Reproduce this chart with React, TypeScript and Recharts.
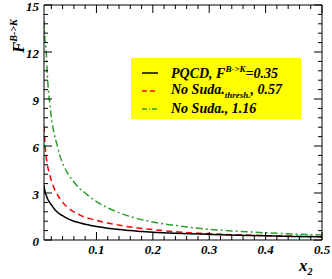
import React from "react";
import { LineChart, Line, XAxis, YAxis, Legend } from "recharts";

// x2 momentum fraction and the three distributions
const x2 = [
  0.007, 0.008, 0.011, 0.013, 0.017, 0.02, 0.025, 0.03, 0.035, 0.04, 0.05, 0.06,
  0.07, 0.08, 0.09, 0.1, 0.12, 0.14, 0.16, 0.18, 0.2, 0.25, 0.3, 0.35, 0.4, 0.45, 0.5,
];
const pqcd = [
  3.5, 3.25, 2.85, 2.65, 2.4, 2.25, 2.0, 1.8, 1.65, 1.55, 1.35, 1.2,
  1.1, 1.0, 0.93, 0.86, 0.75, 0.67, 0.6, 0.55, 0.5, 0.42, 0.36, 0.31, 0.27, 0.23, 0.2,
];
const noSudaThresh = [
  7.3, 6.6, 5.3, 4.8, 4.2, 3.8, 3.3, 2.95, 2.65, 2.4, 2.05, 1.8,
  1.6, 1.45, 1.35, 1.25, 1.08, 0.95, 0.83, 0.74, 0.66, 0.5, 0.4, 0.33, 0.28, 0.24, 0.21,
];
const noSuda = [
  14.0, 13.2, 12.0, 10.5, 8.8, 7.85, 6.8, 6.1, 5.4, 4.9, 4.2, 3.7,
  3.3, 3.0, 2.7, 2.45, 2.05, 1.75, 1.5, 1.3, 1.15, 0.88, 0.68, 0.56, 0.46, 0.38, 0.32,
];

const xTicks = [
  0.02, 0.04, 0.06, 0.08, 0.1, 0.12, 0.14, 0.16, 0.18, 0.2, 0.22, 0.24, 0.26,
  0.28, 0.3, 0.32, 0.34, 0.36, 0.38, 0.4, 0.42, 0.44, 0.46, 0.48, 0.5,
];
const xLabels = [0.1, 0.2, 0.3, 0.4, 0.5];
const yTicks = [
  0, 0.6, 1.2, 1.8, 2.4, 3, 3.6, 4.2, 4.8, 5.4, 6, 6.6, 7.2, 7.8, 8.4, 9, 9.6,
  10.2, 10.8, 11.4, 12, 12.6, 13.2, 13.8, 14.4, 15,
];
const yLabels = [0, 3, 6, 9, 12, 15];

const data = x2.map((x, i) => ({
  x,
  pqcd: pqcd[i],
  thresh: noSudaThresh[i],
  suda: noSuda[i],
}));

const font = {
  fontFamily: "'Liberation Serif', 'Times New Roman', serif",
  fontWeight: "bold" as const,
  fontStyle: "italic" as const,
};

const isMajor = (list: number[], v: number) =>
  list.some((m) => Math.abs(m - v) < 1e-6);

const BottomTick = (props: any) => {
  const { x, y, payload } = props;
  const major = isMajor(xLabels, payload.value);
  return (
    <g>
      <line x1={x} y1={y} x2={x} y2={y - (major ? 8 : 4)} stroke="#000" />
      {major && (
        <text x={x} y={y + 14} textAnchor="middle" fontSize={13} {...font}>
          {payload.value.toFixed(1)}
        </text>
      )}
    </g>
  );
};

const TopTick = (props: any) => {
  const { x, y, payload } = props;
  const major = isMajor(xLabels, payload.value);
  return <line x1={x} y1={y} x2={x} y2={y + (major ? 8 : 4)} stroke="#000" />;
};

const LeftTick = (props: any) => {
  const { x, y, payload } = props;
  const major = isMajor(yLabels, payload.value);
  return (
    <g>
      <line x1={x} y1={y} x2={x + (major ? 8 : 4)} y2={y} stroke="#000" />
      {major && (
        <text x={x - 5} y={y + 6} textAnchor="end" fontSize={13} {...font}>
          {payload.value}
        </text>
      )}
    </g>
  );
};

const RightTick = (props: any) => {
  const { x, y, payload } = props;
  const major = isMajor(yLabels, payload.value);
  return <line x1={x} y1={y} x2={x - (major ? 8 : 4)} y2={y} stroke="#000" />;
};

const GREEN = "#2e9e2e";

const LegendBox = () => (
  <div
    style={{
      ...font,
      background: "#ffff00",
      width: 170,
      height: 61,
      boxSizing: "border-box",
      padding: "6px 0 0 11px",
      fontSize: 14,
      lineHeight: "18px",
    }}
  >
    {[
      { color: "#000", dash: undefined, text: <>PQCD, F<sup style={{ fontSize: 9 }}>B-&gt;K</sup>=0.35</> },
      { color: "#ff0000", dash: "5 3", text: <>No Suda.<sub style={{ fontSize: 9 }}>thresh.</sub>, 0.57</> },
      { color: GREEN, dash: "5 2 1 2", text: <>No Suda., 1.16</> },
    ].map((r, i) => (
      <div key={i} style={{ display: "flex", alignItems: "center", height: 18 }}>
        <svg width={16} height={4} style={{ marginRight: 13 }}>
          <line x1={0} y1={2} x2={16} y2={2} stroke={r.color} strokeWidth={1.5} strokeDasharray={r.dash} />
        </svg>
        <span style={{ whiteSpace: "nowrap", lineHeight: 1 }}>{r.text}</span>
      </div>
    ))}
  </div>
);

const axisCommon = {
  interval: 0 as const,
  tickSize: 0,
  tickMargin: 0,
  tickLine: false,
  allowDataOverflow: true,
  axisLine: { stroke: "#000" },
};

export default function App() {
  return (
    <div style={{ position: "absolute", left: 0, top: 0, width: 332, height: 279, background: "#fff" }}>
      <LineChart
        width={332}
        height={279}
        data={data}
        margin={{ top: 4, right: 9, bottom: 38, left: 43 }}
      >
        <XAxis
          xAxisId="b"
          dataKey="x"
          type="number"
          domain={[0.007, 0.5]}
          ticks={xTicks}
          height={1}
          {...axisCommon}
          tick={<BottomTick />}
        />
        <XAxis
          xAxisId="t"
          orientation="top"
          dataKey="x"
          type="number"
          domain={[0.007, 0.5]}
          ticks={xTicks}
          height={1}
          {...axisCommon}
          tick={<TopTick />}
        />
        <YAxis
          yAxisId="l"
          type="number"
          domain={[0, 15]}
          ticks={yTicks}
          width={1}
          {...axisCommon}
          tick={<LeftTick />}
        />
        <YAxis
          yAxisId="r"
          orientation="right"
          type="number"
          domain={[0, 15]}
          ticks={yTicks}
          width={1}
          {...axisCommon}
          tick={<RightTick />}
        />
        <Legend
          layout="vertical"
          align="center"
          verticalAlign="middle"
          wrapperStyle={{ position: "absolute", left: 131, top: 58, width: 170 }}
          content={() => <LegendBox />}
        />
        <Line xAxisId="b" yAxisId="l" type="monotone" dataKey="suda" stroke={GREEN} strokeWidth={1.5} strokeDasharray="7 3 2 3" dot={false} isAnimationActive={false} />
        <Line xAxisId="b" yAxisId="l" type="monotone" dataKey="thresh" stroke="#ff0000" strokeWidth={1.5} strokeDasharray="6 4" dot={false} isAnimationActive={false} />
        <Line xAxisId="b" yAxisId="l" type="monotone" dataKey="pqcd" stroke="#000" strokeWidth={1.5} dot={false} isAnimationActive={false} />
      </LineChart>
      <div
        style={{
          ...font,
          position: "absolute",
          left: 4,
          top: 53,
          fontSize: 17,
          lineHeight: "20px",
          whiteSpace: "nowrap",
          transformOrigin: "left top",
          transform: "rotate(-90deg)",
        }}
      >
        F<sup style={{ fontSize: 10 }}>B-&gt;K</sup>
      </div>
      <div
        style={{
          ...font,
          position: "absolute",
          left: 299,
          top: 256,
          fontSize: 17,
          lineHeight: "20px",
          whiteSpace: "nowrap",
        }}
      >
        x<sub style={{ fontSize: 10 }}>2</sub>
      </div>
    </div>
  );
}
